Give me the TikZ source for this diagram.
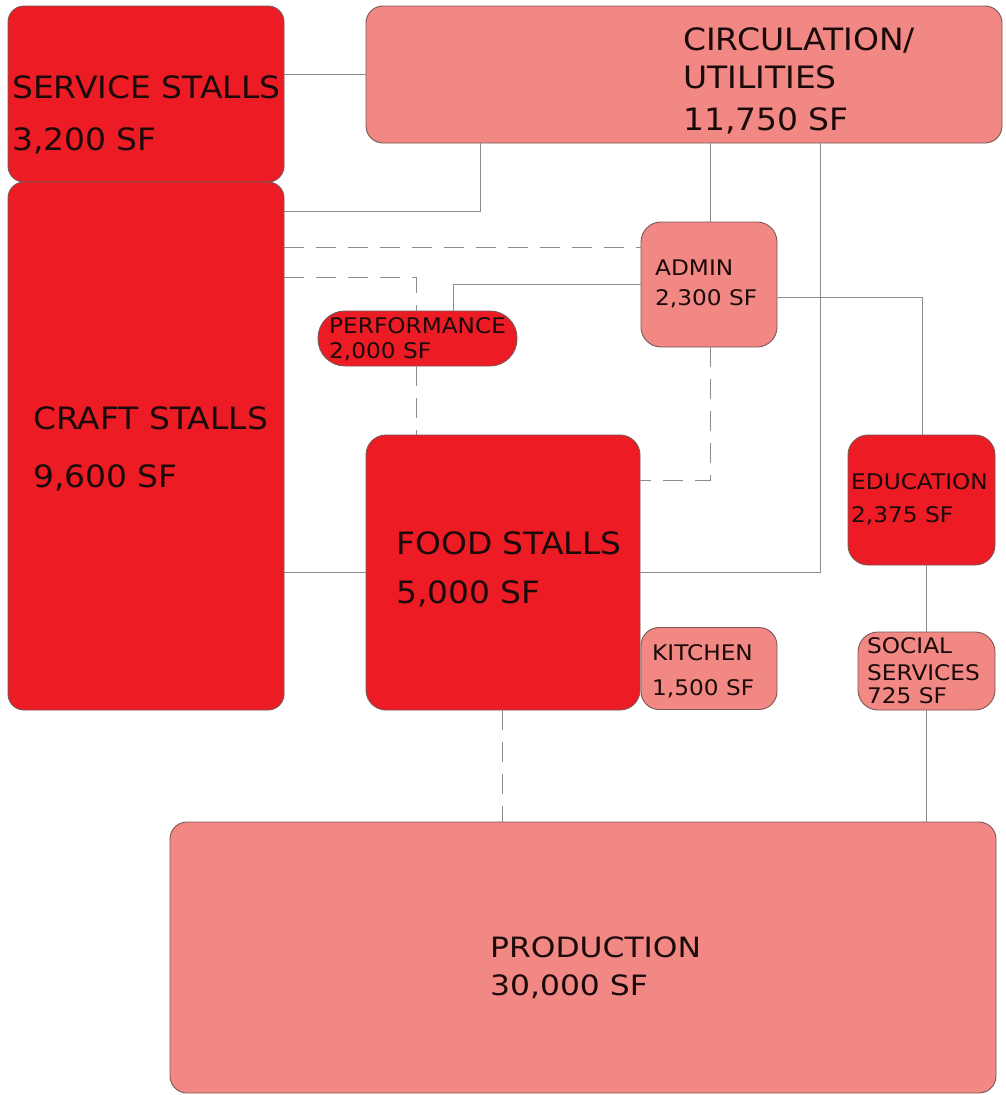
\documentclass[tikz,border=0pt]{standalone}
\usepackage{fontspec}
\setmainfont{DejaVu Sans}
\newfontfamily\bigfnt[FakeStretch=1.07]{DejaVu Sans}
\newfontfamily\smallfnt[FakeStretch=1.08]{DejaVu Sans}
\newfontfamily\prodfnt[FakeStretch=1.12]{DejaVu Sans}
\definecolor{redfill}{HTML}{ED1C24}
\definecolor{pinkfill}{HTML}{F28884}
\definecolor{edgecol}{HTML}{7A5656}
\definecolor{linecol}{HTML}{8C8C8C}
\definecolor{txtcol}{HTML}{1A0A0A}
\tikzset{
  box/.style={draw=edgecol, line width=0.9pt, inner sep=0pt, outer sep=0pt},
  redbox/.style={box, fill=redfill},
  pinkbox/.style={box, fill=pinkfill},
  conn/.style={draw=linecol, line width=1pt},
  dconn/.style={conn, dash pattern=on 20pt off 12pt},
  bigtxt/.style={anchor=base west, inner sep=0pt, text=txtcol, font=\bigfnt\fontsize{30.8}{36}\selectfont},
  smtxt/.style={anchor=base west, inner sep=0pt, text=txtcol, font=\smallfnt\fontsize{21.5}{24}\selectfont},
  prtxt/.style={anchor=base west, inner sep=0pt, text=txtcol, font=\prodfnt\fontsize{28}{34}\selectfont},
}
\begin{document}
\begin{tikzpicture}[x=1pt, y=-1pt]
\useasboundingbox (0,0) rectangle (1005,1095);
\fill[white] (0,0) rectangle (1005,1095);

% boxes
\node[redbox, rounded corners=16pt, minimum width=276, minimum height=176] (svc) at (146,94) {};
\node[redbox, rounded corners=16pt, minimum width=276, minimum height=528] (craft) at (146,446) {};
\node[pinkbox, rounded corners=17pt, minimum width=636, minimum height=137] (circ) at (684,74.5) {};
\node[pinkbox, rounded corners=20pt, minimum width=136, minimum height=125] (admin) at (709,284.5) {};
\node[redbox, rounded corners=27pt, minimum width=199, minimum height=55] (perf) at (417.5,338.5) {};
\node[redbox, rounded corners=20pt, minimum width=274, minimum height=275] (food) at (503,572.5) {};
\node[redbox, rounded corners=20pt, minimum width=147, minimum height=130] (edu) at (921.5,500) {};
\node[pinkbox, rounded corners=18pt, minimum width=136, minimum height=82] (kitchen) at (709,668.5) {};
\node[pinkbox, rounded corners=20pt, minimum width=137, minimum height=78] (soc) at (926.5,671) {};
\node[pinkbox, rounded corners=17pt, minimum width=826, minimum height=271] (prod) at (583,957.5) {};

% connectors
\draw[conn] (svc.east |- 0,74) -- (circ.west |- 0,74);
\draw[conn] (circ.south -| 480,0) |- (craft.east |- 0,211);
\draw[dconn] (craft.east |- 0,247) -- (admin.west |- 0,247);
\draw[dconn] (craft.east |- 0,277) -| (perf.north -| 416,0);
\draw[dconn] (perf.south -| 416,0) -- (food.north -| 416,0);
\draw[conn] (admin.west |- 0,284) -| (perf.north -| 453,0);
\draw[conn] (admin.north -| 710,0) -- (circ.south -| 710,0);
\draw[dconn] (admin.south -| 710,0) |- (food.east |- 0,480);
\draw[conn] (circ.south -| 820,0) |- (food.east |- 0,572);
\draw[conn] (craft.east |- 0,572) -- (food.west |- 0,572);
\draw[conn] (admin.east |- 0,297) -| (edu.north -| 922,0);
\draw[conn] (edu.south -| 926,0) -- (soc.north -| 926,0);
\draw[conn] (soc.south -| 926,0) -- (prod.north -| 926,0);
\draw[dconn] (food.south -| 502,0) -- (prod.north -| 502,0);

% texts
\node[bigtxt] (svc-a) at (12,98) {SERVICE STALLS};
\node[bigtxt] (svc-b) at (12,150) {3,200 SF};
\node[bigtxt] (craft-a) at (33,429) {CRAFT STALLS};
\node[bigtxt] (craft-b) at (33,487) {9,600 SF};
\node[bigtxt] (circ-a) at (683,50) {CIRCULATION/};
\node[bigtxt] (circ-b) at (683,88) {UTILITIES};
\node[bigtxt] (circ-c) at (683,130) {11,750 SF};
\node[bigtxt] (food-a) at (396,554) {FOOD STALLS};
\node[bigtxt] (food-b) at (396,603) {5,000 SF};
\node[prtxt] (prod-a) at (490,957) {PRODUCTION};
\node[prtxt] (prod-b) at (490,995) {30,000 SF};
\node[smtxt] (perf-a) at (329,333) {PERFORMANCE};
\node[smtxt] (perf-b) at (329,358) {2,000 SF};
\node[smtxt] (admin-a) at (655,275) {ADMIN};
\node[smtxt] (admin-b) at (655,305) {2,300 SF};
\node[smtxt] (edu-a) at (851,489) {EDUCATION};
\node[smtxt] (edu-b) at (851,522) {2,375 SF};
\node[smtxt] (kit-a) at (652,660) {KITCHEN};
\node[smtxt] (kit-b) at (652,695) {1,500 SF};
\node[smtxt] (soc-a) at (867,653) {SOCIAL};
\node[smtxt] (soc-b) at (867,680) {SERVICES};
\node[smtxt] (soc-c) at (867,703) {725 SF};
\end{tikzpicture}
\end{document}
